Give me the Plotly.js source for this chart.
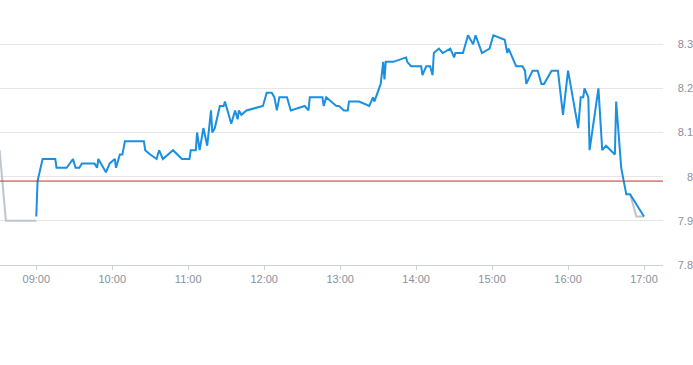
<!DOCTYPE html>
<html>
<head>
<meta charset="utf-8">
<script src="https://cdn.plot.ly/plotly-3.0.1.min.js"></script>
<style>html,body{margin:0;padding:0;background:#fff;}#chart{width:693px;height:365px;}</style>
</head>
<body>
<div id="chart"></div>
<script>
var day = '2024-01-02 ';
var times = ['09:00','09:01','09:05','09:15','09:16','09:24','09:29','09:31','09:34','09:36',
 '09:46','09:48','09:49','09:55','09:58','10:02','10:03','10:05','10:06','10:08',
 '10:10','10:25','10:26','10:30','10:35','10:37','10:40','10:48','10:55','11:01',
 '11:02','11:06','11:07','11:09','11:12','11:15','11:18','11:19','11:21','11:25',
 '11:28','11:29','11:34','11:37','11:39','11:40','11:42','11:46','11:59','12:02',
 '12:06','12:08','12:10','12:12','12:18','12:21','12:32','12:35','12:36','12:46',
 '12:47','12:49','12:57','12:59','13:03','13:06','13:07','13:15','13:23','13:26',
 '13:27','13:32','13:34','13:35','13:36','13:42','13:52','13:53','13:56','14:04',
 '14:05','14:08','14:11','14:13','14:14','14:18','14:21','14:27','14:30','14:31',
 '14:37','14:41','14:45','14:47','14:52','14:58','15:01','15:10','15:12','15:13',
 '15:16','15:18','15:19','15:24','15:26','15:27','15:32','15:36','15:39','15:41',
 '15:47','15:52','15:54','15:56','16:00','16:08','16:10','16:12','16:13','16:16',
 '16:17','16:24','16:27','16:30','16:37','16:38','16:42','16:46','16:49','17:00'];
var prices = [7.91,7.99,8.04,8.04,8.02,8.02,8.04,8.02,8.02,8.03,
 8.03,8.02,8.04,8.01,8.03,8.04,8.02,8.04,8.05,8.05,
 8.08,8.08,8.06,8.05,8.04,8.06,8.04,8.06,8.04,8.04,
 8.06,8.06,8.10,8.06,8.11,8.07,8.15,8.10,8.11,8.16,
 8.16,8.17,8.12,8.15,8.13,8.15,8.14,8.15,8.16,8.19,
 8.19,8.18,8.15,8.18,8.18,8.15,8.16,8.15,8.18,8.18,
 8.16,8.18,8.16,8.16,8.15,8.15,8.17,8.17,8.16,8.18,
 8.17,8.21,8.26,8.22,8.26,8.26,8.27,8.26,8.25,8.25,
 8.23,8.25,8.25,8.23,8.28,8.29,8.28,8.29,8.27,8.28,
 8.28,8.32,8.30,8.32,8.28,8.29,8.32,8.31,8.28,8.29,
 8.27,8.26,8.25,8.25,8.24,8.21,8.24,8.24,8.21,8.21,
 8.24,8.24,8.19,8.14,8.24,8.11,8.18,8.18,8.20,8.18,
 8.06,8.20,8.06,8.07,8.05,8.17,8.02,7.96,7.96,7.91];
var greyTimes = ['08:31','08:36','09:00',null,'16:49','16:54','17:00'];
var greyPrices = [8.06,7.90,7.90,null,7.96,7.91,7.91];
var prevClose = 7.99;
var yTicks = [7.8,7.9,8.0,8.1,8.2,8.3];
var yTickText = ['7.8','7.9','8','8.1','8.2','8.3'];
var xTickTimes = ['09:00','10:00','11:00','12:00','13:00','14:00','15:00','16:00','17:00'];

function ts(t){ return t === null ? null : day + t; }

var traces = [
  {x: greyTimes.map(ts), y: greyPrices, type:'scatter', mode:'lines',
   line:{color:'#bcc6ce', width:2}, connectgaps:false, hoverinfo:'skip'},
  {x: times.map(ts), y: prices, type:'scatter', mode:'lines',
   line:{color:'#1b8fe0', width:2}}
];

var layout = {
  width:693, height:365,
  margin:{l:0, r:0, t:0, b:100, pad:0},
  paper_bgcolor:'#fff', plot_bgcolor:'#fff',
  showlegend:false,
  font:{family:'"Liberation Sans", Arial, sans-serif', size:11, color:'#88919c'},
  xaxis:{
    type:'date', domain:[0, 663/693],
    range:[day+'08:31:20', day+'17:15:00'],
    tickvals: xTickTimes.map(ts), ticktext: xTickTimes,
    showgrid:false, zeroline:false,
    showline:true, linecolor:'#ccd1d8', linewidth:1,
    ticks:'outside', ticklen:4, tickcolor:'#ccd1d8', tickwidth:1,
    tickfont:{size:11, color:'#88919c'}, automargin:false
  },
  yaxis:{
    range:[7.8, 8.4], anchor:'free', position:1, side:'left',
    tickvals:yTicks, ticktext:yTickText,
    showgrid:true, gridcolor:'#e6e6e6', gridwidth:1,
    zeroline:false, showline:false, ticks:'',
    tickfont:{size:11, color:'#88919c'}, automargin:false
  },
  shapes:[{type:'line', xref:'x domain', x0:0, x1:1, yref:'y', y0:prevClose, y1:prevClose,
    line:{color:'#c0302f', width:1}, layer:'above'}]
};

Plotly.newPlot('chart', traces, layout, {displayModeBar:false, staticPlot:true});
</script>
</body>
</html>
